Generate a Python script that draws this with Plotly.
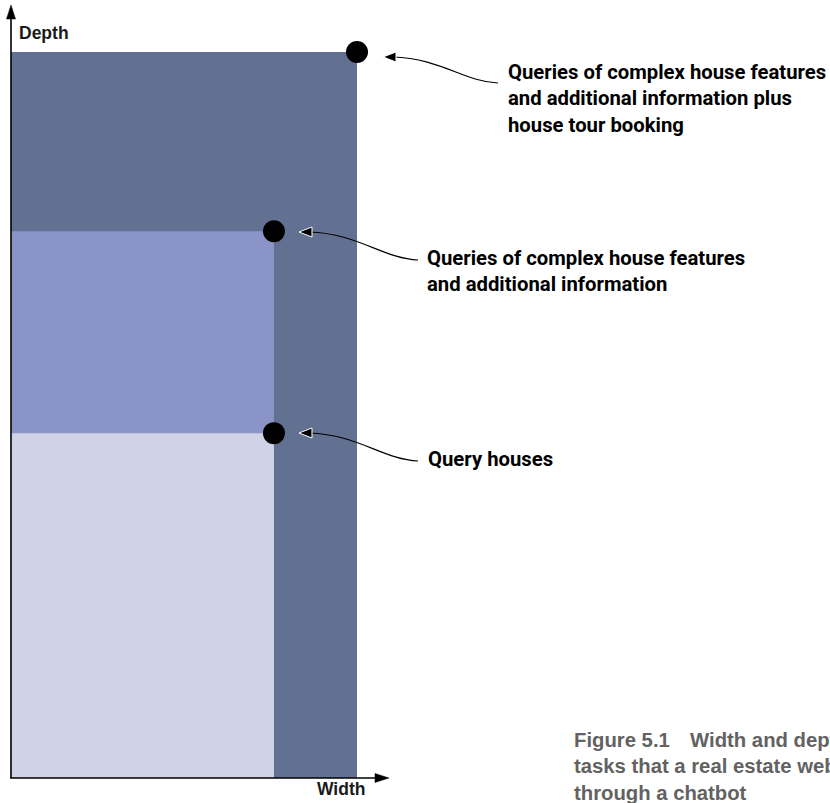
import plotly.graph_objects as go

# ---- data ----
levels = [
    "Queries of complex house features and additional information plus house tour booking",
    "Queries of complex house features and additional information",
    "Query houses",
]
width = [10.0, 7.6, 7.6]      # task width (arbitrary units)
depth = [10.0, 7.53, 4.75]    # task depth (arbitrary units)
fill_colors = ["#627092", "#8a94c6", "#d0d2e7"]
label_lines = [
    ["Queries of complex house features", "and additional information plus", "house tour booking"],
    ["Queries of complex house features", "and additional information"],
    ["Query houses"],
]
axis_labels = ["Depth", "Width"]
caption_lines = ["Figure 5.1\u2003Width and depth of the", "tasks that a real estate website handles", "through a chatbot"]

OFF = 0
W, H = 830, 803

def px(x, y):
    return (x - OFF) / W, 1 - (y - OFF) / H

def P(x, y):
    a, b = px(x, y)
    return f"{a:.5f},{b:.5f}"

fig = go.Figure()

shapes = []
# rectangles (data coordinates)
for w, d, c in zip(width, depth, fill_colors):
    shapes.append(dict(type="rect", xref="x", yref="y", x0=0, x1=w, y0=0, y1=d,
                       fillcolor=c, line=dict(width=0), layer="below"))

# axes lines and arrowheads
shapes.append(dict(type="path", xref="paper", yref="paper",
                   path=f"M{P(11,778)} L{P(11,16)}", line=dict(color="black", width=1.6)))
shapes.append(dict(type="path", xref="paper", yref="paper",
                   path=f"M{P(10,778)} L{P(378,778)}", line=dict(color="black", width=1.6)))
shapes.append(dict(type="path", xref="paper", yref="paper",
                   path=f"M{P(11,5)} L{P(15.5,19)} L{P(6.5,19)} Z",
                   fillcolor="black", line=dict(color="black", width=0.5)))
shapes.append(dict(type="path", xref="paper", yref="paper",
                   path=f"M{P(389,778)} L{P(375,773.5)} L{P(375,782.5)} Z",
                   fillcolor="black", line=dict(color="black", width=0.5)))

# curved leader arrows
leaders = [
    ((383, 57), (498, 83)),
    ((299, 232), (418, 260)),
    ((299, 433), (418, 461)),
]
for (tx, ty), (ex, ey) in leaders:
    sx = tx + 10
    dx = ex - sx
    dy = ey - ty
    c1 = (sx + 0.45 * dx, ty + 0.05 * dy)
    c2 = (sx + 0.68 * dx, ty + 0.95 * dy)
    shapes.append(dict(type="path", xref="paper", yref="paper",
                       path=f"M{P(sx,ty)} C{P(*c1)} {P(*c2)} {P(ex,ey)}",
                       line=dict(color="black", width=1.2)))
    shapes.append(dict(type="path", xref="paper", yref="paper",
                       path=f"M{P(tx,ty)} L{P(tx+13,ty-5)} L{P(tx+13,ty+5)} Z",
                       fillcolor="black", line=dict(color="white", width=1)))

# dots
fig.add_trace(go.Scatter(x=width, y=depth, mode="markers",
                         marker=dict(size=22, color="black", line=dict(width=0)),
                         hoverinfo="text", text=levels, showlegend=False))

annotations = []
label_pos = [(506, 58), (425, 244), (426, 445)]
for lines, (lx, ly) in zip(label_lines, label_pos):
    ax_, ay_ = px(lx, ly)
    annotations.append(dict(xref="paper", yref="paper", x=ax_, y=ay_,
                            xanchor="left", yanchor="top", align="left", showarrow=False,
                            text="<br>".join(lines),
                            font=dict(family="Roboto", size=20.3, color="black", weight=700)))
ax_, ay_ = px(17, 33)
annotations.append(dict(xref="paper", yref="paper", x=ax_, y=ay_,
                        xanchor="left", yanchor="middle", showarrow=False, text=axis_labels[0],
                        font=dict(family="Liberation Sans, Arial", size=17.5, color="#1a1a1a", weight=700)))
ax_, ay_ = px(315, 789)
annotations.append(dict(xref="paper", yref="paper", x=ax_, y=ay_,
                        xanchor="left", yanchor="middle", showarrow=False, text=axis_labels[1],
                        font=dict(family="Liberation Sans, Arial", size=17.5, color="#1a1a1a", weight=700)))
ax_, ay_ = px(572, 727)
annotations.append(dict(xref="paper", yref="paper", x=ax_, y=ay_,
                        xanchor="left", yanchor="top", align="left", showarrow=False,
                        text="<br>".join(caption_lines),
                        font=dict(family="Liberation Sans, Arial", size=20.3, color="#626262", weight=700)))

fig.update_layout(
    width=W, height=H,
    margin=dict(l=0, r=0, t=0, b=0),
    paper_bgcolor="white", plot_bgcolor="white",
    xaxis=dict(range=[-(11 - OFF) / 34.6, (W - (11 - OFF)) / 34.6], visible=False, fixedrange=True),
    yaxis=dict(range=[-(H - (778 - OFF)) / 72.6, (778 - OFF) / 72.6], visible=False, fixedrange=True),
    shapes=shapes, annotations=annotations, showlegend=False,
)

fig.write_html("out.html", config={"displayModeBar": False},
               post_script="document.body.style.margin='0';document.body.style.overflow='hidden';")
